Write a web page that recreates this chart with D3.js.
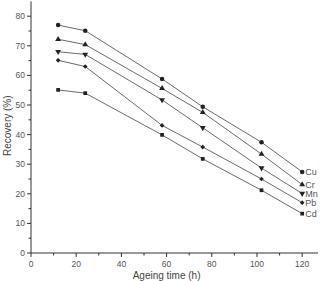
<!DOCTYPE html>
<html>
<head>
<meta charset="utf-8">
<script src="https://cdn.jsdelivr.net/npm/d3@7"></script>
<style>
  body { margin: 0; background: #fff; }
  svg { display: block; font-family: "Liberation Sans", Arial, sans-serif; }
</style>
</head>
<body>
<div id="chart"></div>
<script>
// ageing time (h)
var hours = [12, 24, 58, 76, 102, 120];
var metals = ["Cu", "Cr", "Mn", "Pb", "Cd"];
var cu = [77, 75.1, 58.8, 49.4, 37.4, 27.4];
var cr = [72.2, 70.4, 55.6, 47.5, 33.4, 23.1];
var mn = [68, 67.1, 51.7, 42.3, 28.7, 20.1];
var pb = [65.1, 63, 43.1, 35.8, 25, 17];
var cd = [55.1, 54, 39.9, 31.8, 21.2, 13.3];
var xTicks = [0, 20, 40, 60, 80, 100, 120];
var yTicks = [0, 10, 20, 30, 40, 50, 60, 70, 80];

var seriesValues = [cu, cr, mn, pb, cd];
var symbols = [d3.symbolCircle, d3.symbolTriangle, d3.symbolTriangle, d3.symbolSquare, d3.symbolSquare];
var rot = [0, 0, 180, 45, 0];
var sizes = [16, 15, 15, 11, 14];

var W = 322, H = 281;
var svg = d3.select("#chart").append("svg").attr("width", W).attr("height", H);

var x = d3.scaleLinear().domain([0, 127]).range([31, 318]);
var y = d3.scaleLinear().domain([0, 85]).range([253, 1.4]);

var axisColor = "#333", textColor = "#555";

// x axis
var xAxis = svg.append("g").attr("transform", "translate(0," + y(0) + ")");
xAxis.append("line").attr("x1", x(0)).attr("x2", x(127)).attr("stroke", axisColor).attr("stroke-width", 1);
xAxis.selectAll(".minor").data(d3.range(10, 127, 20)).enter().append("line")
    .attr("x1", function (d) { return x(d); }).attr("x2", function (d) { return x(d); })
    .attr("y1", 0).attr("y2", 2.5).attr("stroke", axisColor);
xAxis.selectAll(".major").data(xTicks).enter().append("line")
    .attr("x1", function (d) { return x(d); }).attr("x2", function (d) { return x(d); })
    .attr("y1", 0).attr("y2", 4).attr("stroke", axisColor);
xAxis.selectAll("text").data(xTicks).enter().append("text")
    .attr("x", function (d) { return x(d); }).attr("y", 13.5)
    .attr("text-anchor", "middle").attr("font-size", "8.5px").attr("fill", textColor)
    .text(function (d) { return d; });
svg.append("text").attr("x", x(60)).attr("y", 278.5)
    .attr("text-anchor", "middle").attr("font-size", "10px").attr("fill", "#444")
    .text("Ageing time (h)");

// y axis
var yAxis = svg.append("g").attr("transform", "translate(" + x(0) + ",0)");
yAxis.append("line").attr("y1", y(0)).attr("y2", y(85)).attr("stroke", axisColor).attr("stroke-width", 1);
yAxis.selectAll(".minor").data(d3.range(5, 85, 10)).enter().append("line")
    .attr("y1", function (d) { return y(d); }).attr("y2", function (d) { return y(d); })
    .attr("x1", 0).attr("x2", -2.5).attr("stroke", axisColor);
yAxis.selectAll(".major").data(yTicks).enter().append("line")
    .attr("y1", function (d) { return y(d); }).attr("y2", function (d) { return y(d); })
    .attr("x1", 0).attr("x2", -4).attr("stroke", axisColor);
yAxis.selectAll("text").data(yTicks).enter().append("text")
    .attr("x", -6).attr("y", function (d) { return y(d); }).attr("dy", "0.35em")
    .attr("text-anchor", "end").attr("font-size", "8.5px").attr("fill", textColor)
    .text(function (d) { return d; });
svg.append("text").attr("transform", "translate(11," + y(43) + ") rotate(-90)")
    .attr("text-anchor", "middle").attr("font-size", "10px").attr("fill", "#444")
    .text("Recovery (%)");

// lines + markers
var line = d3.line().x(function (d, i) { return x(hours[i]); }).y(function (d) { return y(d); });
seriesValues.forEach(function (vals, k) {
    var g = svg.append("g");
    g.append("path").datum(vals).attr("d", line)
        .attr("fill", "none").attr("stroke", "#444").attr("stroke-width", 0.8);
    g.selectAll("path.pt").data(vals).enter().append("path").attr("class", "pt")
        .attr("d", d3.symbol().type(symbols[k]).size(sizes[k]))
        .attr("transform", function (d, i) {
            return "translate(" + x(hours[i]) + "," + y(d) + ") rotate(" + rot[k] + ")";
        })
        .attr("fill", "#222");
    g.append("text").attr("x", x(hours[5]) + 3).attr("y", y(vals[5])).attr("dy", "0.35em")
        .attr("font-size", "9px").attr("fill", textColor).text(metals[k]);
});
</script>
</body>
</html>
